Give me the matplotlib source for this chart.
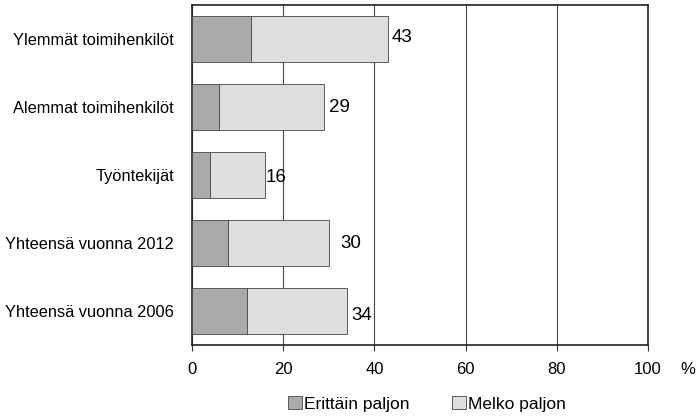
import matplotlib
matplotlib.use("Agg")
import matplotlib.pyplot as plt
import numpy as np

plt.rcParams['font.family'] = ['Liberation Sans', 'DejaVu Sans']

ryhmat = ["Ylemmät toimihenkilöt", "Alemmat toimihenkilöt", "Työntekijät",
          "Yhteensä vuonna 2012", "Yhteensä vuonna 2006"]
erittain = [13, 6, 4, 8, 12]
yhteensa = [43, 29, 16, 30, 34]
melko = [t - e for t, e in zip(yhteensa, erittain)]
tikit = [0, 20, 40, 60, 80, 100]

# label offsets in pixels (irregular in the original)
dx = [4, 5, 1, 12, 4]
dy = [2, 0, -3, 0, -5]

fig = plt.figure(figsize=(6.98, 4.16), dpi=100)
ax = fig.add_axes([192 / 698, 1 - 345 / 416, (648 - 192) / 698, 340 / 416])

y = np.arange(len(ryhmat))
ax.barh(y, erittain, height=0.67, color="#aaaaaa", edgecolor="#444444",
        linewidth=0.6, label="Erittäin paljon", zorder=3)
ax.barh(y, melko, left=erittain, height=0.67, color="#dedede", edgecolor="#444444",
        linewidth=0.6, label="Melko paljon", zorder=3)

for i, t in enumerate(yhteensa):
    ax.annotate(str(t), (t, y[i]), xytext=(dx[i] * 0.72, dy[i] * 0.72),
                textcoords="offset points", va="center", ha="left", fontsize=13.5)

ax.set_xlim(0, 100)
ax.set_ylim(len(ryhmat) - 0.5, -0.5)
ax.set_xticks(tikit)
ax.set_xticklabels([str(t) for t in tikit], fontsize=12)
ax.set_yticks(y)
ax.set_yticklabels(ryhmat, fontsize=11.8)
ax.tick_params(axis="y", length=0, pad=13)
ax.tick_params(axis="x", length=4, direction="out", pad=8, color="#333333")
ax.xaxis.grid(True, color="#444444", linewidth=0.8, zorder=0)
ax.set_axisbelow(True)
for s in ax.spines.values():
    s.set_linewidth(1.2)
    s.set_color("#222222")

fig.text(688 / 698, 1 - 369 / 416, "%", ha="center", va="center", fontsize=12)

fig.legend(loc="center", bbox_to_anchor=(427 / 698, 1 - 404 / 416), ncol=2,
           frameon=False, fontsize=12.5, handlelength=0.8, handleheight=0.8,
           handletextpad=0.15, columnspacing=2.4)

fig.savefig("out.png", dpi=100)
